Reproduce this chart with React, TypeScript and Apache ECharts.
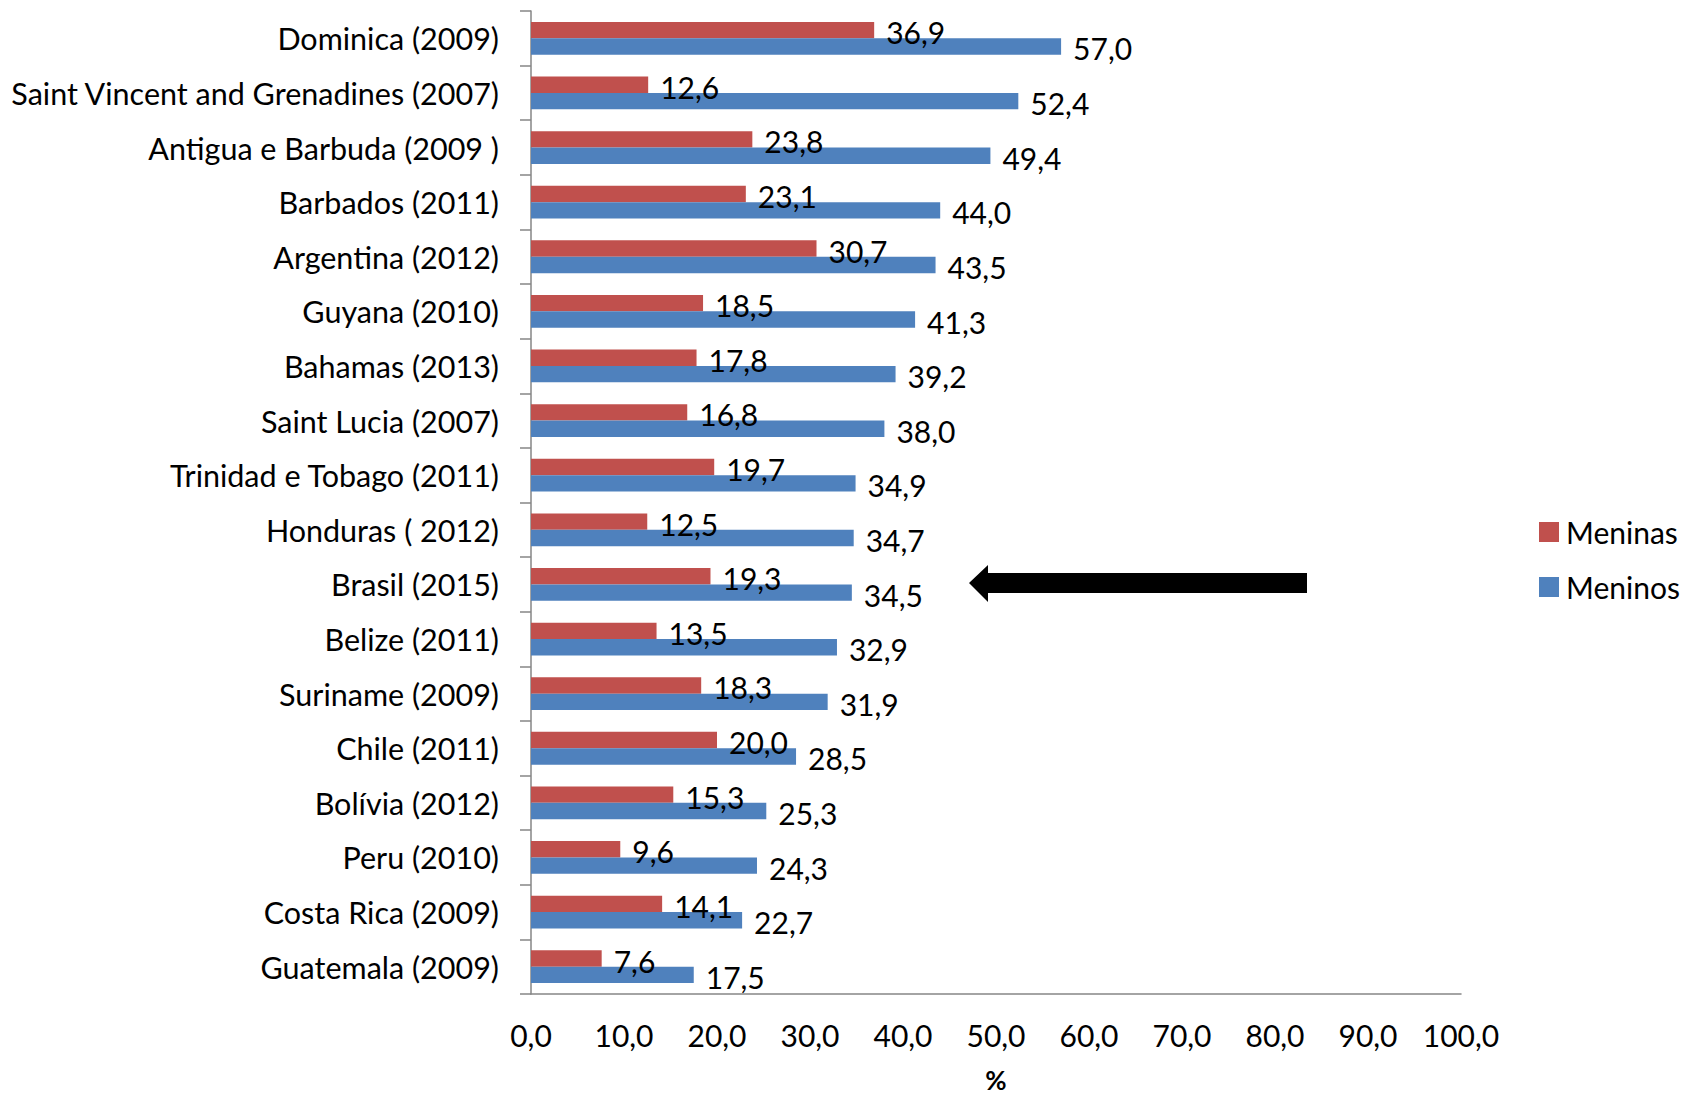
import React, { useEffect, useRef } from "react";
import * as echarts from "echarts";

const categories = [
  "Dominica (2009)",
  "Saint Vincent and Grenadines (2007)",
  "Antigua e Barbuda (2009 )",
  "Barbados (2011)",
  "Argentina (2012)",
  "Guyana (2010)",
  "Bahamas (2013)",
  "Saint Lucia (2007)",
  "Trinidad e Tobago (2011)",
  "Honduras ( 2012)",
  "Brasil (2015)",
  "Belize (2011)",
  "Suriname (2009)",
  "Chile (2011)",
  "Bolívia (2012)",
  "Peru (2010)",
  "Costa Rica (2009)",
  "Guatemala (2009)",
];
const meninas = [36.9, 12.6, 23.8, 23.1, 30.7, 18.5, 17.8, 16.8, 19.7, 12.5, 19.3, 13.5, 18.3, 20.0, 15.3, 9.6, 14.1, 7.6];
const meninos = [57.0, 52.4, 49.4, 44.0, 43.5, 41.3, 39.2, 38.0, 34.9, 34.7, 34.5, 32.9, 31.9, 28.5, 25.3, 24.3, 22.7, 17.5];
const seriesNames = ["Meninas", "Meninos"];
const axisMin = 0;
const axisMax = 100;
const axisInterval = 10;
const axisName = "%";

const FONT = "Lato";
const fmt = (v: number) => v.toFixed(1).replace(".", ",");

export default function App() {
  const ref = useRef<HTMLDivElement>(null);
  useEffect(() => {
    document.body.style.margin = "0";
    const chart = echarts.init(ref.current!, null, { renderer: "svg" });
    const labelStyle = {
      show: true,
      position: "right" as const,
      distance: 12,
      offset: [0, 2],
      color: "#000",
      fontFamily: FONT,
      fontSize: 30,
      formatter: (p: any) => fmt(p.value),
    };
    chart.setOption({
      animation: false,
      backgroundColor: "#fff",
      textStyle: { fontFamily: FONT },
      grid: { left: 531, top: 11, right: 225, bottom: 105, containLabel: false, outerBoundsMode: "none" },
      legend: {
        orient: "vertical",
        left: 1534,
        top: 512,
        itemWidth: 20,
        itemHeight: 20,
        itemGap: 25,
        icon: "rect",
        data: seriesNames,
        textStyle: { fontFamily: FONT, fontSize: 30, color: "#000", lineHeight: 30, padding: [0, 0, 0, 2] },
      },
      xAxis: {
        type: "value",
        min: axisMin,
        max: axisMax,
        interval: axisInterval,
        name: axisName,
        nameLocation: "middle",
        nameGap: 86,
        nameTextStyle: {
          fontFamily: FONT,
          fontSize: 26,
          fontWeight: "bold",
          color: "#000",
          verticalAlign: "middle",
          lineHeight: 22,
        },
        axisLine: { show: true, lineStyle: { color: "#868686", width: 1.5 } },
        axisTick: { show: false },
        splitLine: { show: false },
        axisLabel: { margin: 26, color: "#000", fontFamily: FONT, fontSize: 30, formatter: (v: number) => fmt(v) },
      },
      yAxis: {
        type: "category",
        data: categories,
        inverse: true,
        axisLine: { show: true, lineStyle: { color: "#868686", width: 1.5 } },
        axisTick: { show: true, length: 11, alignWithLabel: false, interval: 0, lineStyle: { color: "#868686", width: 1.5 } },
        axisLabel: { margin: 32, interval: 0, color: "#000", fontFamily: FONT, fontSize: 30.5 },
      },
      series: [
        {
          name: seriesNames[0],
          type: "bar",
          data: meninas,
          itemStyle: { color: "#C0504D" },
          barCategoryGap: "40%",
          barGap: "0%",
          label: labelStyle,
        },
        {
          name: seriesNames[1],
          type: "bar",
          data: meninos,
          itemStyle: { color: "#4F81BD" },
          barCategoryGap: "40%",
          barGap: "0%",
          label: labelStyle,
        },
      ],
      graphic: [
        {
          type: "polygon",
          shape: {
            points: [
              [969, 583],
              [988, 565],
              [988, 573],
              [1307, 573],
              [1307, 593],
              [988, 593],
              [988, 602],
            ],
          },
          style: { fill: "#000" },
        },
      ],
    });
    return () => chart.dispose();
  }, []);
  return <div ref={ref} style={{ width: 1686, height: 1099 }} />;
}
